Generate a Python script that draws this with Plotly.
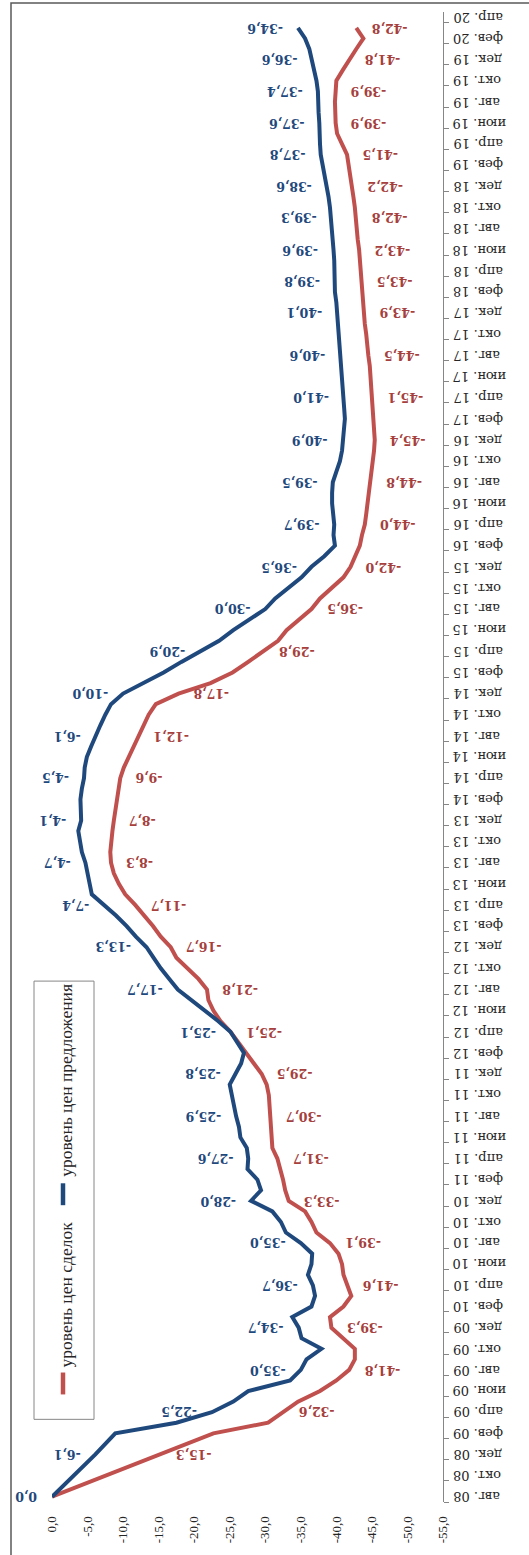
import plotly.graph_objects as go

# Russian month abbreviations for the time axis
MONTHS_RU = ["янв.", "фев.", "мар.", "апр.", "май", "июн.",
             "июл.", "авг.", "сен.", "окт.", "ноя.", "дек."]
START_YEAR, START_MONTH = 2008, 8          # series start: August 2008
LAST_TICK_MONTH = 140                      # axis runs up to April 2020

# Monthly index values, month 0 = Aug 2008 ... month 139 = Mar 2020
# (None = no observation for that month)
deal_prices = [
    0.0, None, None, None, -15.3, None, -22.7, -30.4, -32.6, -34.6,
    -37.7, -40.0, -41.8, -42.6, -42.6, -41.0, -39.3, -39.1, -41.0, -42.1,
    -41.6, -41.0, -40.8, -40.3, -39.1, -37.2, -36.5, -35.6, -33.3, -32.8,
    -32.5, -32.1, -31.7, -31.0, -30.9, -30.8, -30.7, -30.6, -30.5, -30.2,
    -29.5, -28.4, -27.3, -26.2, -25.1, -23.7, -22.7, -22.0, -21.8, -20.6,
    -19.0, -17.5, -16.7, -15.3, -14.2, -13.0, -11.7, -10.3, -9.4, -8.7,
    -8.3, -8.2, -8.3, -8.5, -8.7, -8.9, -9.1, -9.3, -9.6, -10.1,
    -10.8, -11.5, -12.1, -12.8, -13.6, -14.6, -17.8, -22.3, -25.4, -27.6,
    -29.8, -31.8, -33.0, -34.8, -36.5, -37.7, -39.4, -41.0, -42.0, -42.7,
    -43.3, -43.6, -44.0, -44.2, -44.4, -44.6, -44.8, -45.0, -45.2, -45.3,
    -45.4, -45.3, -45.3, -45.2, -45.1, -45.0, -44.8, -44.7, -44.5, -44.4,
    -44.2, -44.0, -43.9, -43.8, -43.6, -43.5, -43.4, -43.3, -43.2, -43.0,
    -42.9, -42.8, -42.6, -42.4, -42.2, -42.0, -41.8, -41.5, -40.8, -40.1,
    -39.9, -39.8, -39.8, -39.9, -40.0, -40.9, -41.8, -42.8, -43.8, -42.8,
]
offer_prices = [
    0.0, None, None, None, -6.1, None, -8.9, -17.5, -22.5, -25.5,
    -27.6, -33.5, -35.0, -35.8, -37.9, -35.1, -34.7, -33.8, -36.5, -37.0,
    -36.7, -36.0, -36.5, -36.6, -35.0, -32.9, -32.2, -31.0, -28.0, -29.4,
    -28.9, -27.5, -27.6, -27.4, -26.5, -26.3, -25.9, -25.6, -25.3, -25.0,
    -25.8, -26.6, -27.0, -26.0, -25.1, -23.4, -21.5, -19.5, -17.7, -16.5,
    -15.3, -14.3, -13.3, -11.8, -10.5, -9.0, -7.4, -5.6, -5.3, -5.0,
    -4.7, -4.2, -3.9, -3.7, -4.1, -4.0, -4.0, -4.2, -4.5, -4.6,
    -4.9, -5.5, -6.1, -6.8, -7.5, -8.3, -10.0, -13.0, -15.7, -18.2,
    -20.9, -23.5, -25.5, -27.8, -30.0, -31.4, -33.3, -35.1, -36.5, -38.3,
    -39.8, -39.6, -39.7, -39.5, -39.4, -39.4, -39.5, -40.0, -40.5, -40.8,
    -40.9, -41.0, -41.2, -41.1, -41.0, -40.9, -40.8, -40.7, -40.6, -40.5,
    -40.4, -40.2, -40.1, -40.0, -39.8, -39.8, -39.7, -39.7, -39.6, -39.5,
    -39.4, -39.3, -39.1, -38.9, -38.6, -38.3, -38.0, -37.8, -37.7, -37.7,
    -37.6, -37.5, -37.5, -37.4, -37.2, -36.9, -36.6, -36.2, -35.6, -34.6,
]

# Months that carry a value label
label_months = list(range(0, 113, 4)) + list(range(115, 140, 3))

value_ticks = [0, -5, -10, -15, -20, -25, -30, -35, -40, -45, -50, -55]

DEAL_NAME = "уровень цен сделок"
OFFER_NAME = "уровень цен предложения"

DEAL_LINE, DEAL_TEXT = "#C0504D", "#A5403D"
OFFER_LINE, OFFER_TEXT = "#1F497D", "#1F497D"
AXIS_GREY = "#868686"
TEXT_DARK = "#262626"


def ru_num(v):
    return f"{v:.1f}".replace(".", ",")


def month_label(m):
    k = START_MONTH - 1 + m
    return f"{MONTHS_RU[k % 12]} {(START_YEAR + k // 12) % 100:02d}"


month_idx = list(range(len(deal_prices)))
date_tickvals = list(range(0, LAST_TICK_MONTH + 1, 2))
date_ticktext = [month_label(m) for m in date_tickvals]

# plot-area geometry in pixels
W, H = 529, 1555
PL, PR, PT, PB = 52, 443, 12, 1508


def px_x(px):
    return (px - PL) / (PR - PL)


def px_y(py):
    return (PB - py) / (PB - PT)


fig = go.Figure()
fig.add_trace(go.Scatter(
    x=deal_prices, y=month_idx, mode="lines", name=DEAL_NAME,
    connectgaps=True, line=dict(color=DEAL_LINE, width=4),
    hoverinfo="skip", showlegend=False))
fig.add_trace(go.Scatter(
    x=offer_prices, y=month_idx, mode="lines", name=OFFER_NAME,
    connectgaps=True, line=dict(color=OFFER_LINE, width=4),
    hoverinfo="skip", showlegend=False))

annotations = []

# upside-down month labels beside the time axis
for m, txt in zip(date_tickvals, date_ticktext):
    annotations.append(dict(
        x=1, y=m, xref="paper", yref="y", text=txt, showarrow=False,
        textangle=180, xanchor="left", yanchor="middle", xshift=8,
        font=dict(family="DejaVu Serif", size=13, color=TEXT_DARK)))

label_font = "DejaVu Serif"
for m in label_months:
    v = offer_prices[m]
    annotations.append(dict(
        x=v, y=m, xref="x", yref="y", text=f"<b>{ru_num(v)}</b>",
        showarrow=False, textangle=180, xanchor="right", yanchor="middle",
        xshift=-13, font=dict(family=label_font, size=12.5, color=OFFER_TEXT)))
    if m == 0:
        continue
    v = deal_prices[m]
    annotations.append(dict(
        x=v, y=m, xref="x", yref="y", text=f"<b>{ru_num(v)}</b>",
        showarrow=False, textangle=180, xanchor="left", yanchor="middle",
        xshift=13, font=dict(family=label_font, size=12.5, color=DEAL_TEXT)))

# legend drawn as a rotated box
legend_font = dict(family="Liberation Serif", size=17.5, color=TEXT_DARK)
annotations.append(dict(
    x=px_x(66), y=px_y(1375), xref="paper", yref="paper", text=DEAL_NAME,
    showarrow=False, textangle=-90, xanchor="center", yanchor="bottom",
    font=legend_font))
annotations.append(dict(
    x=px_x(66), y=px_y(1184), xref="paper", yref="paper", text=OFFER_NAME,
    showarrow=False, textangle=-90, xanchor="center", yanchor="bottom",
    font=legend_font))

shapes = [
    # chart border
    dict(type="rect", xref="paper", yref="paper",
         x0=px_x(11), x1=px_x(W + 20), y0=px_y(H + 20), y1=px_y(3),
         line=dict(color="#595959", width=1.5), layer="above"),
    # legend frame
    dict(type="rect", xref="paper", yref="paper",
         x0=px_x(34), x1=px_x(94), y0=px_y(1425), y1=px_y(985),
         line=dict(color=AXIS_GREY, width=1), layer="above"),
    # legend keys
    dict(type="line", xref="paper", yref="paper",
         x0=px_x(63), x1=px_x(63), y0=px_y(1400), y1=px_y(1378),
         line=dict(color=DEAL_LINE, width=4.5)),
    dict(type="line", xref="paper", yref="paper",
         x0=px_x(63), x1=px_x(63), y0=px_y(1210), y1=px_y(1188),
         line=dict(color=OFFER_LINE, width=4.5)),
]

fig.update_layout(
    width=W, height=H,
    margin=dict(l=PL, r=W - PR, t=PT, b=H - PB, pad=0),
    paper_bgcolor="white", plot_bgcolor="white",
    annotations=annotations, shapes=shapes, showlegend=False,
    xaxis=dict(
        range=[0, -55], tickmode="array", tickvals=value_ticks,
        ticktext=[ru_num(v) for v in value_ticks], tickangle=-90,
        showgrid=False, zeroline=False, showline=False,
        ticks="outside", ticklen=8, tickcolor="rgba(0,0,0,0)",
        tickfont=dict(family="Liberation Serif", size=13, color=TEXT_DARK)),
    yaxis=dict(
        range=[-0.5, LAST_TICK_MONTH + 0.5], side="right",
        tickmode="array", tickvals=date_tickvals, showticklabels=False,
        showgrid=False, zeroline=False,
        showline=True, linecolor=AXIS_GREY, linewidth=1, ticks="",
        minor=dict(tickmode="array",
                   tickvals=[m - 0.5 for m in date_tickvals],
                   ticks="outside", ticklen=5, tickcolor=AXIS_GREY, showgrid=False)),
)

fig.write_html("out.html")
